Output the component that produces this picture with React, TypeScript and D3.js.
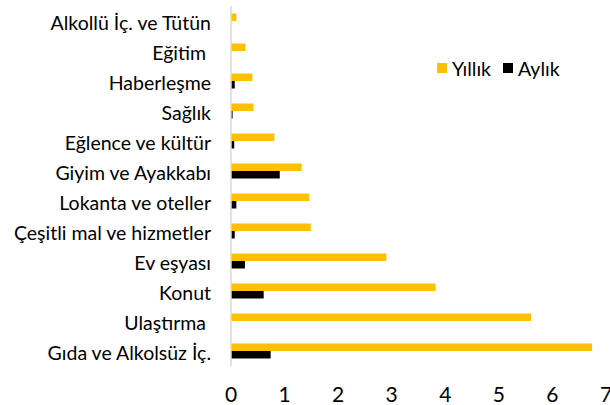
import React from "react";
import * as d3 from "d3";

const categories = [
  "Alkollü İç. ve Tütün",
  "Eğitim ",
  "Haberleşme",
  "Sağlık",
  "Eğlence ve kültür",
  "Giyim ve Ayakkabı",
  "Lokanta ve oteller",
  "Çeşitli mal ve hizmetler",
  "Ev eşyası",
  "Konut",
  "Ulaştırma ",
  "Gıda ve Alkolsüz İç.",
];
const yillik = [0.1, 0.27, 0.4, 0.42, 0.81, 1.32, 1.46, 1.49, 2.9, 3.82, 5.6, 6.74];
const aylik = [0, 0, 0.07, 0.03, 0.06, 0.91, 0.1, 0.07, 0.26, 0.61, 0, 0.74];
const xTicks = [0, 1, 2, 3, 4, 5, 6, 7];
const seriesNames = ["Yıllık", "Aylık"];
const colors = ["#FFC000", "#000000"];

export default function App() {
  const W = 610, H = 405;
  const x = d3.scaleLinear().domain([0, 7]).range([231, 606]);
  const y = d3.scaleBand<string>().domain(categories).range([6, 366]).paddingInner(0).paddingOuter(0);
  const bw = y.bandwidth();
  const barH = 7.5;
  const font = "Lato, 'Open Sans', sans-serif";
  return (
    <svg width={W} height={H} style={{ position: "absolute", left: 0, top: 0, background: "#fff" }} fontFamily={font}>
      {categories.map((c, i) => {
        const yc = (y(c) as number) + bw / 2;
        return (
          <g key={c}>
            <rect x={x(0)} y={yc - barH} width={x(yillik[i]) - x(0)} height={barH} fill={colors[0]} />
            {aylik[i] > 0 && (
              <rect x={x(0)} y={yc} width={x(aylik[i]) - x(0)} height={barH} fill={colors[1]} />
            )}
            <text x={211} y={yc + 1} textAnchor="end" dominantBaseline="central" fontSize={19.5} fill="#000" style={{ whiteSpace: "pre" }}>
              {c}
            </text>
          </g>
        );
      })}
      <line x1={x(0)} x2={x(0)} y1={6} y2={366} stroke="#D9D9D9" strokeWidth={1.5} />
      {xTicks.map((t) => (
        <text key={t} x={x(t)} y={393} textAnchor="middle" dominantBaseline="central" fontSize={21} fill="#000">
          {t}
        </text>
      ))}
      <g>
        <rect x={437} y={63} width={10} height={10} fill={colors[0]} />
        <text x={452} y={68.5} dominantBaseline="central" fontSize={19.5} fill="#000">{seriesNames[0]}</text>
        <rect x={503} y={63} width={10} height={10} fill={colors[1]} />
        <text x={518} y={68.5} dominantBaseline="central" fontSize={19.5} fill="#000">{seriesNames[1]}</text>
      </g>
    </svg>
  );
}
